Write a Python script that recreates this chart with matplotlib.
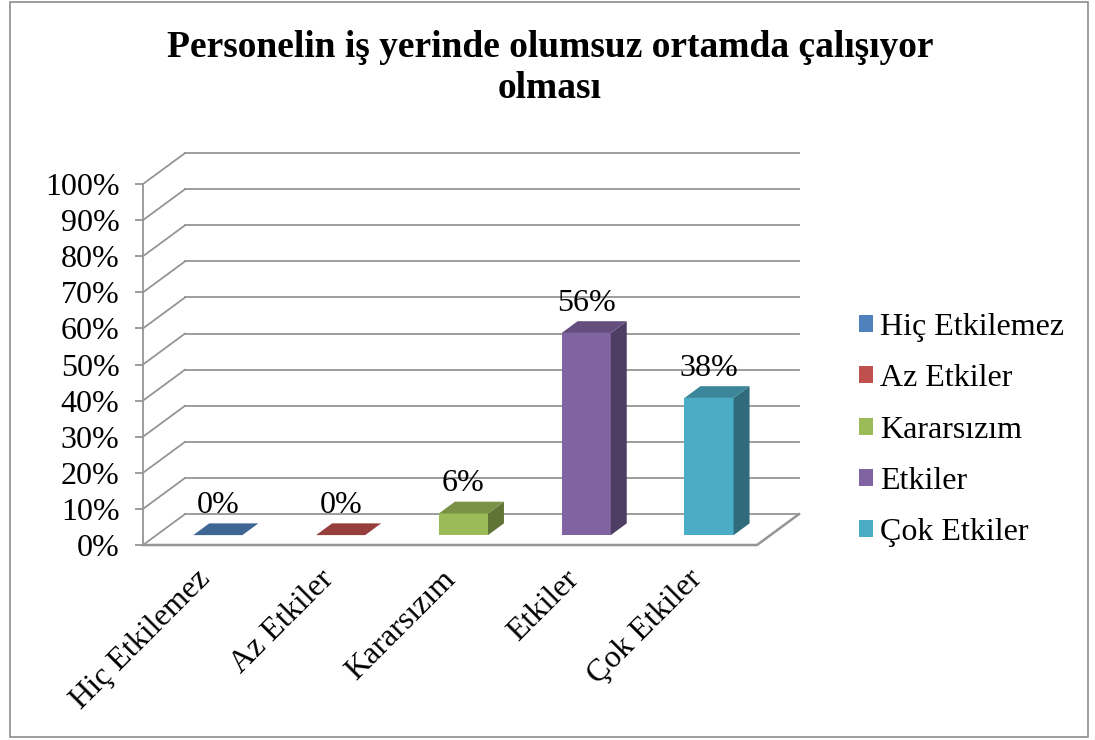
import numpy as np
import matplotlib
matplotlib.use('Agg')
import matplotlib.pyplot as plt
from matplotlib.colors import to_rgb
from matplotlib.patches import Rectangle

plt.rcParams['font.family'] = ['Liberation Serif', 'DejaVu Serif']

categories = ['Hiç Etkilemez', 'Az Etkiler', 'Kararsızım', 'Etkiler', 'Çok Etkiler']
values = [0, 0, 6, 56, 38]
colors = ['#4F81BD', '#C0504D', '#9BBB59', '#8064A2', '#4BACC6']
yticks = list(range(0, 101, 10))
title = 'Personelin iş yerinde olumsuz ortamda çalışıyor\nolması'

GRID = '#959595'
FS = 23
DX, DY = 0.342, 8.56      # full depth of the 3D box in data units
F0, F1 = 0.32, 0.70       # bar depth span as fraction of the box depth
BW = 0.4


def shade(c, k):
    return tuple(np.array(to_rgb(c)) * k)


fig = plt.figure(figsize=(10.95, 7.40), dpi=100)
fig.patches.append(Rectangle((0.009, 0.004), 0.985, 0.993, transform=fig.transFigure,
                             fill=False, edgecolor='#8c8c8c', lw=1.2))
ax = fig.add_axes([143 / 1095, 195 / 740, 614 / 1095, 361 / 740])
ax.set_xlim(0, len(categories))
ax.set_ylim(0, 100)
for s in ['top', 'right', 'bottom']:
    ax.spines[s].set_visible(False)
ax.spines['left'].set_color(GRID)
ax.spines['left'].set_linewidth(1.3)
ax.set_yticks(yticks)
ax.set_yticklabels([f'{t}%' for t in yticks], fontsize=FS)
ax.tick_params(axis='y', length=6, width=1.3, color=GRID, pad=11)
ax.set_xticks([])

n = len(categories)
# walls: back gridlines and side diagonals
for t in yticks:
    ax.plot([DX, n + DX], [t + DY, t + DY], color=GRID, lw=1.3, clip_on=False, zorder=1)
    ax.plot([0, DX], [t, t + DY], color=GRID, lw=1.3, clip_on=False, zorder=1)
# floor
ax.plot([0, n, n + DX], [0, 0, DY], color=GRID, lw=1.8, clip_on=False, zorder=1)

xc = np.arange(n) + 0.5
x0 = xc - BW / 2 + F0 * DX
dx = (F1 - F0) * DX
dy = (F1 - F0) * DY
bars = ax.bar(x0, values, width=BW, bottom=F0 * DY, align='edge', color=colors,
              zorder=3, clip_on=False)

for i, v in enumerate(values):
    c = colors[i]
    yb = F0 * DY
    top = [(x0[i], yb + v), (x0[i] + BW, yb + v), (x0[i] + BW + dx, yb + v + dy), (x0[i] + dx, yb + v + dy)]
    side = [(x0[i] + BW, yb), (x0[i] + BW + dx, yb + dy), (x0[i] + BW + dx, yb + v + dy), (x0[i] + BW, yb + v)]
    if v > 0:
        ax.fill(*zip(*side), color=shade(c, 0.62), zorder=3, clip_on=False, lw=0)
        ax.fill(*zip(*top), color=shade(c, 0.78), zorder=3, clip_on=False, lw=0)
    else:
        ax.fill(*zip(*top), color=shade(c, 0.78), zorder=3, clip_on=False, lw=0)
    ax.text(x0[i] + BW / 2, yb + v + dy + 1.0, f'{v}%', ha='center', va='bottom',
            fontsize=FS, zorder=4)

# category labels, rotated, ending just right of each category centre
for i, lab in enumerate(categories):
    ax.text(xc[i] - 0.07, -5.5, lab, rotation=45, ha='right', va='top',
            rotation_mode='anchor', fontsize=FS)

ax.legend(bars, categories, loc='center left', bbox_to_anchor=(859 / 1095, 310 / 740),
          bbox_transform=fig.transFigure, frameon=False, fontsize=FS,
          handlelength=0.45, handleheight=0.45, handletextpad=0.2,
          labelspacing=0.7, borderpad=0, borderaxespad=0)

fig.text(550 / 1095, 1 - 68 / 740, title, ha='center', va='center', fontsize=27,
         fontweight='bold', linespacing=1.22)

fig.savefig('out.png', dpi=100)
